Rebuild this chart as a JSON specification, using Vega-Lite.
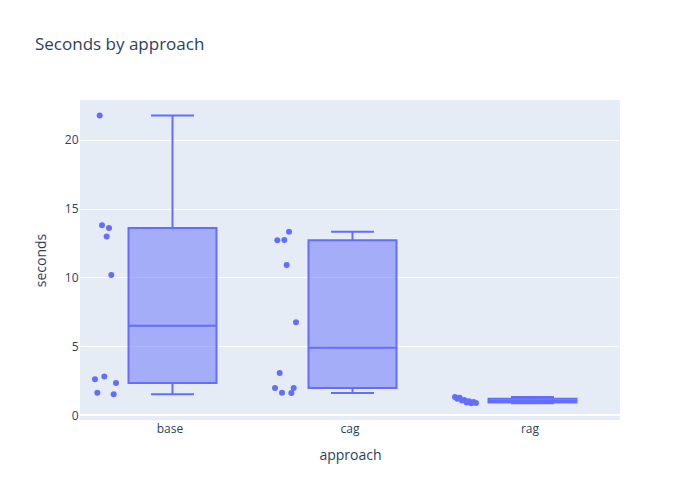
{
  "$schema": "https://vega.github.io/schema/vega-lite/v6.json",
  "width": 540,
  "height": 320,
  "autosize": {"type": "none"},
  "padding": {"left": 80, "top": 100, "right": 80, "bottom": 80},
  "background": "white",
  "config": {
    "font": "Open Sans",
    "view": {"fill": "#E5ECF6", "stroke": null}
  },
  "title": {
    "text": "Seconds by approach",
    "anchor": "start",
    "frame": "group",
    "dx": -45,
    "offset": 33,
    "baseline": "alphabetic",
    "fontSize": 17,
    "fontWeight": "normal",
    "color": "#2a3f5f"
  },
  "data": {
    "values": [
      {"approach": "base", "run": 1, "seconds": 2.60},
      {"approach": "base", "run": 2, "seconds": 1.62},
      {"approach": "base", "run": 3, "seconds": 21.77},
      {"approach": "base", "run": 4, "seconds": 13.80},
      {"approach": "base", "run": 5, "seconds": 2.81},
      {"approach": "base", "run": 6, "seconds": 12.97},
      {"approach": "base", "run": 7, "seconds": 13.60},
      {"approach": "base", "run": 8, "seconds": 10.18},
      {"approach": "base", "run": 9, "seconds": 1.51},
      {"approach": "base", "run": 10, "seconds": 2.33},
      {"approach": "cag", "run": 1, "seconds": 1.96},
      {"approach": "cag", "run": 2, "seconds": 12.70},
      {"approach": "cag", "run": 3, "seconds": 3.05},
      {"approach": "cag", "run": 4, "seconds": 1.62},
      {"approach": "cag", "run": 5, "seconds": 12.72},
      {"approach": "cag", "run": 6, "seconds": 10.91},
      {"approach": "cag", "run": 7, "seconds": 13.33},
      {"approach": "cag", "run": 8, "seconds": 1.60},
      {"approach": "cag", "run": 9, "seconds": 1.97},
      {"approach": "cag", "run": 10, "seconds": 6.75},
      {"approach": "rag", "run": 1, "seconds": 1.31},
      {"approach": "rag", "run": 2, "seconds": 1.19},
      {"approach": "rag", "run": 3, "seconds": 1.25},
      {"approach": "rag", "run": 4, "seconds": 1.05},
      {"approach": "rag", "run": 5, "seconds": 1.10},
      {"approach": "rag", "run": 6, "seconds": 0.92},
      {"approach": "rag", "run": 7, "seconds": 1.00},
      {"approach": "rag", "run": 8, "seconds": 0.85},
      {"approach": "rag", "run": 9, "seconds": 0.95},
      {"approach": "rag", "run": 10, "seconds": 0.88}
    ]
  },
  "encoding": {
    "x": {
      "field": "approach",
      "type": "nominal",
      "scale": {"paddingInner": 0, "paddingOuter": 0},
      "axis": {
        "title": "approach",
        "labelAngle": 0,
        "labelColor": "#2a3f5f",
        "labelFontSize": 12,
        "labelPadding": 3,
        "ticks": false,
        "domain": false,
        "grid": false,
        "titleColor": "#2a3f5f",
        "titleFontSize": 14,
        "titleFontWeight": "normal",
        "titlePadding": 14
      }
    }
  },
  "layer": [
    {
      "mark": {"type": "rule", "color": "white", "strokeWidth": 2},
      "encoding": {
        "x": null,
        "y": {
          "datum": 0,
          "type": "quantitative",
          "scale": {"domain": [-0.36, 22.9], "nice": false, "zero": false},
          "axis": {
            "title": "seconds",
            "values": [0, 5, 10, 15, 20],
            "grid": true,
            "gridColor": "white",
            "gridWidth": 1,
            "domain": false,
            "ticks": false,
            "labelColor": "#2a3f5f",
            "labelFontSize": 12,
            "labelPadding": 2,
            "titleColor": "#2a3f5f",
            "titleFontSize": 14,
            "titleFontWeight": "normal",
            "titlePadding": 16
          }
        }
      }
    },
    {
      "transform": [
        {"joinaggregate": [{"op": "count", "as": "n"}], "groupby": ["approach"]},
        {"window": [{"op": "row_number", "as": "rk"}], "sort": [{"field": "seconds", "order": "ascending"}], "groupby": ["approach"]},
        {"calculate": "datum.seconds*max(0,1-abs(datum.rk-(datum.n*0.25+0.5)))", "as": "s1"},
        {"calculate": "datum.seconds*max(0,1-abs(datum.rk-(datum.n*0.75+0.5)))", "as": "s3"},
        {"aggregate": [
          {"op": "sum", "field": "s1", "as": "q1"},
          {"op": "sum", "field": "s3", "as": "q3"},
          {"op": "median", "field": "seconds", "as": "med"},
          {"op": "min", "field": "seconds", "as": "lo"},
          {"op": "max", "field": "seconds", "as": "hi"}
        ], "groupby": ["approach"]}
      ],
      "layer": [
        {
          "mark": {"type": "rule", "color": "#636efa", "strokeWidth": 2, "xOffset": 2.5},
          "encoding": {"y": {"field": "lo", "type": "quantitative"}, "y2": {"field": "q1"}}
        },
        {
          "mark": {"type": "rule", "color": "#636efa", "strokeWidth": 2, "xOffset": 2.5},
          "encoding": {"y": {"field": "q3", "type": "quantitative"}, "y2": {"field": "hi"}}
        },
        {
          "mark": {"type": "bar", "width": 88, "xOffset": 2.5, "fill": "#636efa", "fillOpacity": 0.5, "stroke": "#636efa", "strokeWidth": 2},
          "encoding": {"y": {"field": "q1", "type": "quantitative"}, "y2": {"field": "q3"}}
        },
        {
          "mark": {"type": "tick", "size": 88, "thickness": 2, "color": "#636efa", "opacity": 1, "xOffset": 2.5},
          "encoding": {"y": {"field": "med", "type": "quantitative"}}
        },
        {
          "mark": {"type": "tick", "size": 43, "thickness": 2, "color": "#636efa", "opacity": 1, "xOffset": 2.5},
          "encoding": {"y": {"field": "lo", "type": "quantitative"}}
        },
        {
          "mark": {"type": "tick", "size": 43, "thickness": 2, "color": "#636efa", "opacity": 1, "xOffset": 2.5},
          "encoding": {"y": {"field": "hi", "type": "quantitative"}}
        }
      ]
    },
    {
      "mark": {"type": "circle", "color": "#636efa", "opacity": 1, "size": 36},
      "encoding": {
        "xOffset": {"field": "run", "type": "quantitative", "scale": {"domain": [1, 10], "range": [15, 36]}},
        "y": {"field": "seconds", "type": "quantitative"}
      }
    }
  ]
}
